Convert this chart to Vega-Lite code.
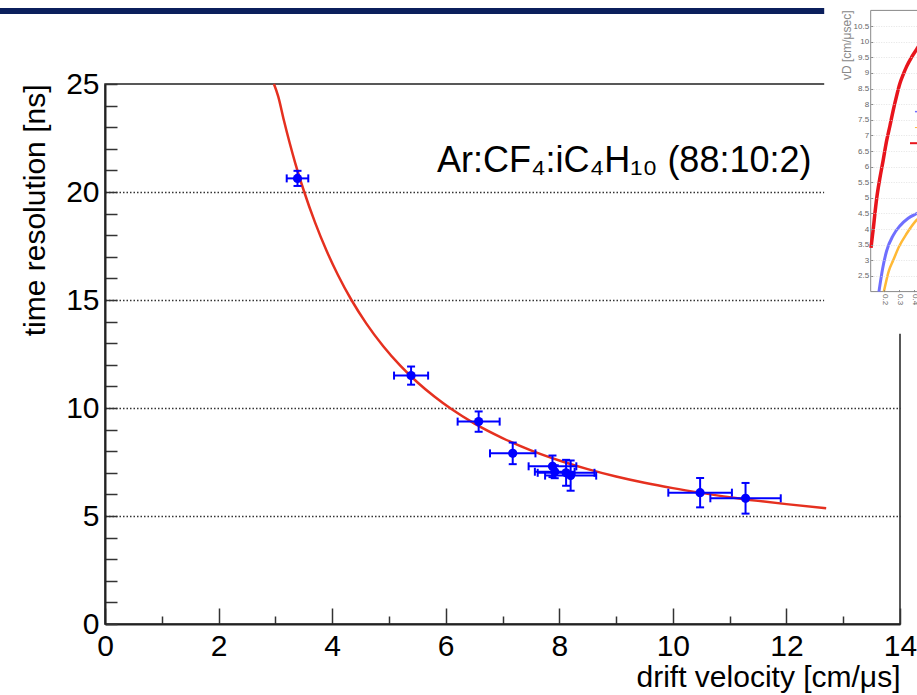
{
  "$schema": "https://vega.github.io/schema/vega-lite/v6.json",
  "width": 795,
  "height": 540,
  "autosize": "none",
  "padding": {"left": 105, "top": 84, "right": 17, "bottom": 71},
  "background": "white",
  "config": {
    "font": "Liberation Sans",
    "view": {"stroke": "#222", "strokeWidth": 1.5},
    "axis": {"labelFont": "Liberation Sans", "titleFont": "Liberation Sans", "labelFlush": false, "labelOverlap": false, "titleFontWeight": "normal"}
  },
  "datasets": {
    "points": [
      {"v": 3.39, "t": 20.63, "vlo": 3.2, "vhi": 3.58, "tlo": 20.28, "thi": 20.98},
      {"v": 5.39, "t": 11.5, "vlo": 5.09, "vhi": 5.69, "tlo": 11.08, "thi": 11.92},
      {"v": 6.58, "t": 9.37, "vlo": 6.21, "vhi": 6.95, "tlo": 8.9, "thi": 9.84},
      {"v": 7.18, "t": 7.9, "vlo": 6.78, "vhi": 7.58, "tlo": 7.4, "thi": 8.4},
      {"v": 7.88, "t": 7.3, "vlo": 7.46, "vhi": 8.3, "tlo": 6.8, "thi": 7.8},
      {"v": 7.92, "t": 7.05, "vlo": 7.57, "vhi": 8.27, "tlo": 6.75, "thi": 7.35},
      {"v": 8.12, "t": 7.0, "vlo": 7.62, "vhi": 8.62, "tlo": 6.4, "thi": 7.6},
      {"v": 8.2, "t": 6.87, "vlo": 7.75, "vhi": 8.65, "tlo": 6.17, "thi": 7.57},
      {"v": 10.48, "t": 6.08, "vlo": 9.92, "vhi": 11.04, "tlo": 5.4, "thi": 6.76},
      {"v": 11.28, "t": 5.82, "vlo": 10.66, "vhi": 11.9, "tlo": 5.11, "thi": 6.53}
    ],
    "fit": [
      {"v": 2.975, "t": 25.0}, {"v": 3.05, "t": 24.43}, {"v": 3.15, "t": 23.32}, {"v": 3.25, "t": 22.29},
      {"v": 3.35, "t": 21.34}, {"v": 3.5, "t": 20.07}, {"v": 3.7, "t": 18.58}, {"v": 3.9, "t": 17.29},
      {"v": 4.1, "t": 16.17}, {"v": 4.34, "t": 15.0}, {"v": 4.6, "t": 13.92}, {"v": 4.9, "t": 12.86},
      {"v": 5.2, "t": 11.96}, {"v": 5.5, "t": 11.19}, {"v": 5.8, "t": 10.53}, {"v": 6.1, "t": 9.95},
      {"v": 6.5, "t": 9.29}, {"v": 7.0, "t": 8.61}, {"v": 7.5, "t": 8.04}, {"v": 8.0, "t": 7.57},
      {"v": 8.5, "t": 7.17}, {"v": 9.0, "t": 6.83}, {"v": 9.5, "t": 6.54}, {"v": 10.0, "t": 6.29},
      {"v": 10.5, "t": 6.07}, {"v": 11.0, "t": 5.87}, {"v": 11.5, "t": 5.7}, {"v": 12.0, "t": 5.55},
      {"v": 12.7, "t": 5.36}
    ],
    "inset": [
      {"s": "red", "e": 0.112, "vd": 3.4}, {"s": "red", "e": 0.118, "vd": 3.65}, {"s": "red", "e": 0.127, "vd": 4.0},
      {"s": "red", "e": 0.138, "vd": 4.5}, {"s": "red", "e": 0.149, "vd": 4.95}, {"s": "red", "e": 0.17, "vd": 5.6},
      {"s": "red", "e": 0.193, "vd": 6.2}, {"s": "red", "e": 0.215, "vd": 6.8}, {"s": "red", "e": 0.238, "vd": 7.3},
      {"s": "red", "e": 0.26, "vd": 7.8}, {"s": "red", "e": 0.282, "vd": 8.25}, {"s": "red", "e": 0.304, "vd": 8.65},
      {"s": "red", "e": 0.327, "vd": 8.95}, {"s": "red", "e": 0.349, "vd": 9.2}, {"s": "red", "e": 0.382, "vd": 9.5},
      {"s": "red", "e": 0.416, "vd": 9.75}, {"s": "red", "e": 0.45, "vd": 10.0}, {"s": "red", "e": 0.5, "vd": 10.3},
      {"s": "blue", "e": 0.165, "vd": 2.0}, {"s": "blue", "e": 0.19, "vd": 2.75}, {"s": "blue", "e": 0.216, "vd": 3.3},
      {"s": "blue", "e": 0.26, "vd": 3.8}, {"s": "blue", "e": 0.304, "vd": 4.1}, {"s": "blue", "e": 0.36, "vd": 4.35},
      {"s": "blue", "e": 0.418, "vd": 4.5}, {"s": "blue", "e": 0.5, "vd": 4.7},
      {"s": "orange", "e": 0.198, "vd": 2.0}, {"s": "orange", "e": 0.23, "vd": 2.65}, {"s": "orange", "e": 0.26, "vd": 3.0},
      {"s": "orange", "e": 0.3, "vd": 3.45}, {"s": "orange", "e": 0.349, "vd": 3.85}, {"s": "orange", "e": 0.418, "vd": 4.3},
      {"s": "orange", "e": 0.5, "vd": 4.55},
      {"s": "redLeg", "e": 0.372, "vd": 6.75}, {"s": "redLeg", "e": 0.45, "vd": 6.75},
      {"s": "blueLeg", "e": 0.405, "vd": 7.76}, {"s": "blueLeg", "e": 0.45, "vd": 7.76},
      {"s": "orangeLeg", "e": 0.405, "vd": 7.25}, {"s": "orangeLeg", "e": 0.45, "vd": 7.25}
    ]
  },
  "layer": [
    {
      "encoding": {
        "x": {
          "field": "v", "type": "quantitative",
          "title": "drift velocity [cm/\u03bcs]",
          "scale": {"domain": [0, 14], "nice": false, "zero": false},
          "axis": {
            "orient": "bottom",
            "values": [0, 0.5, 1, 1.5, 2, 2.5, 3, 3.5, 4, 4.5, 5, 5.5, 6, 6.5, 7, 7.5, 8, 8.5, 9, 9.5, 10, 10.5, 11, 11.5, 12, 12.5, 13, 13.5, 14],
            "tickCount": 100,
            "format": "d",
            "labelOverlap": false, "labelFlush": false,
            "labelExpr": "datum.value % 2 === 0 ? datum.label : ''",
            "tickSize": {"condition": {"test": "datum.value % 2 === 0", "value": -16}, "value": -8},
            "tickColor": "#333", "tickWidth": 1.5,
            "domainColor": "#222", "domainWidth": 2,
            "labelFontSize": 30, "labelColor": "#000", "labelPadding": 23,
            "grid": false,
            "title": "drift velocity [cm/\u03bcs]",
            "titleFontSize": 30, "titleColor": "#000",
            "titleX": 795, "titleY": 62, "titleAlign": "right", "titleBaseline": "alphabetic"
          }
        },
        "y": {
          "field": "t", "type": "quantitative",
          "title": "time resolution [ns]",
          "scale": {"domain": [0, 25], "nice": false, "zero": false},
          "axis": {
            "orient": "left",
            "values": [0, 1, 2, 3, 4, 5, 6, 7, 8, 9, 10, 11, 12, 13, 14, 15, 16, 17, 18, 19, 20, 21, 22, 23, 24, 25],
            "tickCount": 100,
            "format": "d",
            "labelOverlap": false, "labelFlush": false,
            "labelExpr": "datum.value % 5 === 0 ? datum.label : ''",
            "tickSize": -12,
            "tickColor": "#333", "tickWidth": 1.5,
            "domainColor": "#222", "domainWidth": 2,
            "labelFontSize": 30, "labelColor": "#000", "labelPadding": 18,
            "grid": true, "gridColor": "#333", "gridWidth": 1.5, "gridDash": [1.5, 2],
            "gridOpacity": {"condition": {"test": "datum.value % 5 === 0 && datum.value > 0 && datum.value < 25", "value": 1}, "value": 0},
            "title": "time resolution [ns]",
            "titleFontSize": 30, "titleColor": "#000",
            "titleAngle": 270, "titleX": -70, "titleY": 0, "titleAlign": "right", "titleBaseline": "middle"
          }
        }
      },
      "layer": [
        {
          "data": {"name": "fit"},
          "mark": {"type": "line", "color": "#e5301f", "strokeWidth": 2.5, "interpolate": "monotone"}
        },
        {
          "data": {"name": "points"},
          "mark": {"type": "rule", "color": "#0000ff", "strokeWidth": 2},
          "encoding": {
            "x": {"field": "vlo", "type": "quantitative", "title": "drift velocity [cm/\u03bcs]"},
            "x2": {"field": "vhi"}
          }
        },
        {
          "data": {"name": "points"},
          "mark": {"type": "rule", "color": "#0000ff", "strokeWidth": 2},
          "encoding": {
            "y": {"field": "tlo", "type": "quantitative", "title": "time resolution [ns]"},
            "y2": {"field": "thi"}
          }
        },
        {
          "data": {"name": "points"},
          "mark": {"type": "tick", "orient": "vertical", "color": "#0000ff", "size": 8, "thickness": 2, "opacity": 1},
          "encoding": {
            "x": {"field": "vlo", "type": "quantitative", "title": "drift velocity [cm/\u03bcs]"}
          }
        },
        {
          "data": {"name": "points"},
          "mark": {"type": "tick", "orient": "vertical", "color": "#0000ff", "size": 8, "thickness": 2, "opacity": 1},
          "encoding": {
            "x": {"field": "vhi", "type": "quantitative", "title": "drift velocity [cm/\u03bcs]"}
          }
        },
        {
          "data": {"name": "points"},
          "mark": {"type": "tick", "orient": "horizontal", "color": "#0000ff", "size": 8, "thickness": 2, "opacity": 1},
          "encoding": {
            "y": {"field": "tlo", "type": "quantitative", "title": "time resolution [ns]"}
          }
        },
        {
          "data": {"name": "points"},
          "mark": {"type": "tick", "orient": "horizontal", "color": "#0000ff", "size": 8, "thickness": 2, "opacity": 1},
          "encoding": {
            "y": {"field": "thi", "type": "quantitative", "title": "time resolution [ns]"}
          }
        },
        {
          "data": {"name": "points"},
          "mark": {"type": "circle", "color": "#0000ff", "opacity": 1, "size": 85}
        }
      ]
    },
    {
      "layer": [
        {
          "data": {"values": [{}]},
          "mark": {"type": "rect", "color": "#0b1f5c"},
          "encoding": {
            "x": {"datum": -1.85, "type": "quantitative", "scale": {"domain": [0, 14], "nice": false, "zero": false}, "axis": null},
            "x2": {"datum": 12.68},
            "y": {"datum": 28.24, "type": "quantitative", "scale": {"domain": [0, 25], "nice": false, "zero": false}, "axis": null},
            "y2": {"datum": 28.52}
          }
        },
        {
          "data": {"values": [{"label": "Ar:CF\u2084:iC\u2084H\u2081\u2080 (88:10:2)"}]},
          "mark": {"type": "text", "align": "left", "baseline": "alphabetic", "fontSize": 36, "color": "#000", "font": "Liberation Sans"},
          "encoding": {
            "x": {"datum": 5.845, "type": "quantitative", "axis": null},
            "y": {"datum": 20.93, "type": "quantitative", "axis": null},
            "text": {"field": "label"}
          }
        }
      ]
    },
    {
      "layer": [
        {
          "data": {"values": [{}]},
          "mark": {"type": "rect", "color": "#ffffff"},
          "encoding": {
            "x": {
              "datum": -0.2, "type": "quantitative",
              "scale": {"domain": [0.11, 0.6], "range": [765.7, 839.2], "nice": false, "zero": false},
              "axis": {
                "orient": "bottom", "offset": -332.4, "zindex": 1,
                "values": [0.2, 0.3, 0.4, 0.5],
                "tickCount": 100,
                "format": ".1f",
                "labelOverlap": false,
                "labelAngle": 90, "labelAlign": "left", "labelBaseline": "middle",
                "labelFontSize": 8, "labelColor": "#666", "labelPadding": 4,
                "tickSize": -2, "tickColor": "#888",
                "domain": false,
                "grid": false,
                "title": null
              }
            },
            "x2": {"datum": 0.6},
            "y": {
              "datum": 0.65, "type": "quantitative",
              "scale": {"domain": [2, 11], "range": [207.6, -73.6], "nice": false, "zero": false},
              "axis": {
                "orient": "left", "offset": -765.7, "zindex": 1,
                "values": [2.5, 3, 3.5, 4, 4.5, 5, 5.5, 6, 6.5, 7, 7.5, 8, 8.5, 9, 9.5, 10, 10.5],
                "tickCount": 100,
                "format": "~g",
                "labelOverlap": false,
                "labelFontSize": 8, "labelColor": "#666", "labelPadding": 4,
                "tickSize": -2, "tickColor": "#888",
                "domain": false,
                "grid": true, "gridColor": "#dcdcdc", "gridDash": [1, 1.5], "gridWidth": 0.8,
                "title": "vD [cm/\u03bcsec]",
                "titleFontSize": 12, "titleColor": "#888",
                "titleAngle": 270, "titleX": -24.7, "titleY": -74, "titleAlign": "right", "titleBaseline": "middle"
              }
            },
            "y2": {"datum": 11.4}
          }
        },
        {
          "data": {"values": [{}]},
          "mark": {"type": "rect", "fill": null, "fillOpacity": 0, "stroke": "#888", "strokeWidth": 1},
          "encoding": {
            "x": {"datum": 0.11}, "x2": {"datum": 0.6},
            "y": {"datum": 2}, "y2": {"datum": 11}
          }
        },
        {
          "data": {"name": "inset"},
          "mark": {"type": "line", "interpolate": "monotone"},
          "encoding": {
            "x": {"field": "e", "type": "quantitative"},
            "y": {"field": "vd", "type": "quantitative"},
            "detail": {"field": "s"},
            "color": {
              "field": "s", "type": "nominal", "legend": null,
              "scale": {"domain": ["red", "blue", "orange", "redLeg", "blueLeg", "orangeLeg"], "range": ["#e8141c", "#6f6fff", "#ffb935", "#e8141c", "#6f6fff", "#ffb935"]}
            },
            "strokeWidth": {
              "field": "s", "type": "nominal", "legend": null,
              "scale": {"domain": ["red", "blue", "orange", "redLeg", "blueLeg", "orangeLeg"], "range": [3.5, 1, 1, 3.5, 1, 1]}
            }
          }
        }
      ]
    }
  ],
  "resolve": {"scale": {"x": "independent", "y": "independent"}, "axis": {"x": "independent", "y": "independent"}}
}
